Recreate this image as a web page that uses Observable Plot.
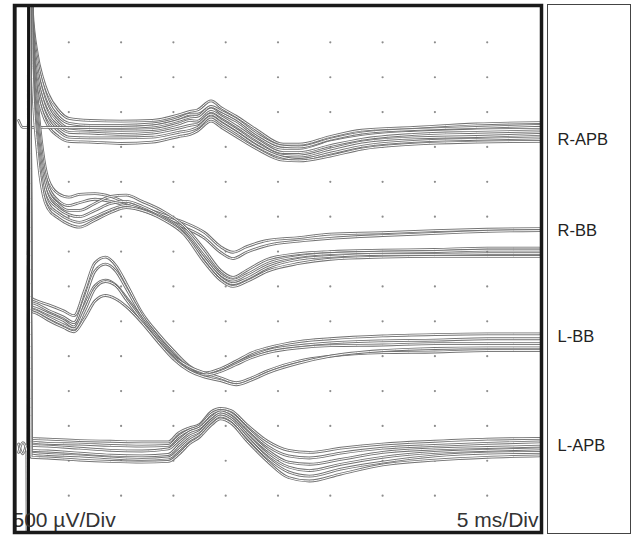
<!DOCTYPE html>
<html><head><meta charset="utf-8">
<script src="https://cdn.jsdelivr.net/npm/d3@7"></script>
<script src="https://cdn.jsdelivr.net/npm/@observablehq/plot@0.6"></script>
<style>
html,body{margin:0;padding:0;background:#fff;}
#wrap{position:relative;width:632px;height:538px;overflow:hidden;background:#fff;}
#labelbox{position:absolute;left:547px;top:4px;width:82px;height:528px;border:1px solid #444;}
#wrap svg{position:absolute;left:0;top:0;}
</style></head><body><div id="wrap"><div id="labelbox"></div></div>
<script>
// ---- channels ----
const channels = ["R-APB", "R-BB", "L-BB", "L-APB"];
const baselines = [5740, 4590, 3150, 1180];      // µV display offset of each channel
const labelLevels = [5600, 4300, 2780, 1220];    // µV level of each channel label
const stimTimes = [1.1, 1.2];                    // ms, stimulus artifact
const stimValues = [-9000, 9000];                // µV, off-scale artifact
const preTimes = [0.2, 0.6, 1.0];                // ms, pre-stimulus samples
const xTicks = [5, 10, 15, 20, 25, 30, 35, 40, 45];                                     // ms divisions
const yTicks = [500, 1000, 1500, 2000, 2500, 3000, 3500, 4000, 4500, 5000, 5500, 6000, 6500, 7000]; // µV divisions
const ampLabel = "500 µV/Div";
const timeLabel = "5 ms/Div";

// ---- R-APB ----
const rapbTimes = [1.5, 2.0, 2.5, 3.0, 4.0, 5.0, 7, 10, 13, 15.5, 16.6, 17.3, 18.6, 19.6, 21, 23, 25.5, 27, 30, 33, 38, 44, 50];
const rapbTraces = [
  [1750, 1080, 750, 530, 290, 170, 140, 130, 140, 220, 270, 290, 420, 320, 200, 0, -200, -200, -90, 0, 40, 90, 110],
  [1650, 980, 650, 430, 200, 100, 70, 70, 90, 170, 230, 230, 330, 240, 130, -90, -260, -260, -140, -60, 0, 30, 40],
  [1550, 860, 530, 330, 130, 30, 10, 0, 10, 90, 140, 130, 270, 190, 60, -140, -320, -320, -220, -130, -60, -30, -10],
  [1430, 750, 430, 240, 60, -30, -40, -60, -40, 30, 70, 90, 230, 140, 10, -190, -360, -370, -270, -170, -110, -90, -60],
  [1320, 650, 330, 160, -10, -100, -110, -110, -100, -30, 0, 40, 190, 100, -30, -230, -390, -420, -330, -230, -160, -130, -110],
  [1220, 540, 240, 70, -90, -160, -170, -190, -170, -90, -60, -10, 130, 40, -90, -270, -430, -440, -370, -270, -200, -170, -160],
  [40, 40, 40, 40, 40, 40, 40, 40, 60, 140, 190, 200, 340, 270, 160, -60, -230, -240, -130, -40, 10, 40, 70]
];
const rapbPre = [null, null, null, null, null, null, [140, 40, 40]];
const rapbStim = [true, true, true, true, true, true, false];

// ---- R-BB ----
const rbbTimes = [1.5, 2.0, 2.5, 3.0, 4.0, 5.0, 6.0, 7.5, 9, 10.5, 12, 14, 16, 18, 19.5, 20.7, 22, 24, 27, 30, 35, 40, 45, 50];
const rbbTraces = [
  [2720, 1580, 860, 460, 240, 190, 230, 240, 200, 110, 40, -60, -170, -320, -520, -600, -520, -430, -390, -340, -320, -290, -270, -260],
  [2610, 1410, 720, 360, 140, 70, 110, 160, 130, 70, 0, -110, -240, -400, -600, -690, -600, -500, -440, -400, -360, -330, -300, -290],
  [2470, 1260, 600, 290, 90, 0, 0, 100, 200, 220, 130, -10, -220, -570, -860, -960, -860, -700, -620, -590, -570, -560, -540, -540],
  [2320, 1120, 490, 200, 30, -60, -90, 0, 100, 130, 60, -90, -290, -660, -920, -1000, -920, -760, -660, -620, -600, -590, -570, -570],
  [2180, 980, 370, 110, -40, -130, -170, -90, 10, 70, 10, -110, -320, -700, -960, -1050, -980, -820, -700, -660, -630, -630, -620, -620],
  [2040, 830, 260, 30, -110, -200, -240, -140, -30, 40, 0, -130, -340, -750, -1000, -1090, -1020, -870, -760, -700, -670, -660, -660, -660]
];

// ---- L-BB ----
const lbbTimes = [1.4, 2.0, 3.0, 4.5, 5.5, 6.5, 7.5, 8.5, 9.5, 10.5, 12, 13.5, 15, 16.5, 18, 19.5, 21, 22.5, 24, 27, 30, 35, 40, 45, 50];
const lbbTraces = [
  [190, 140, 90, 0, -70, 290, 690, 770, 650, 390, -30, -320, -570, -790, -890, -830, -720, -600, -530, -440, -400, -360, -340, -330, -330],
  [130, 90, 10, -90, -170, 170, 570, 670, 570, 320, -70, -370, -630, -830, -930, -860, -750, -650, -570, -500, -460, -430, -420, -400, -400],
  [70, 30, -40, -140, -230, 70, 360, 440, 370, 190, -110, -400, -650, -800, -890, -960, -1030, -960, -860, -720, -650, -600, -590, -570, -570],
  [30, -10, -90, -200, -260, 0, 320, 420, 360, 160, -140, -430, -670, -850, -920, -870, -770, -670, -600, -530, -500, -490, -470, -470, -470],
  [0, -40, -130, -240, -300, -110, 140, 220, 170, 60, -170, -440, -690, -860, -950, -1000, -1060, -990, -890, -750, -650, -570, -540, -530, -530]
];

// ---- L-APB ----
const lapbTimes = [1.4, 3, 6, 9, 12, 14.5, 15.5, 16.5, 17.5, 18.6, 19.5, 20.5, 22, 24, 26, 28, 31, 35, 40, 45, 50];
const lapbTraces = [
  [140, 130, 110, 100, 90, 90, 220, 290, 340, 520, 570, 540, 340, 100, -30, -60, 0, 60, 100, 130, 140],
  [90, 70, 60, 40, 30, 40, 170, 260, 320, 490, 540, 500, 290, 30, -110, -140, -70, 0, 40, 70, 90],
  [40, 30, 0, -30, -40, -10, 110, 230, 290, 440, 520, 460, 240, -30, -200, -230, -160, -60, -10, 10, 30],
  [-30, -40, -70, -100, -110, -90, 40, 170, 240, 400, 490, 430, 200, -90, -270, -320, -230, -130, -60, -30, -10],
  [-70, -90, -110, -140, -160, -140, -30, 110, 200, 370, 460, 400, 160, -140, -340, -400, -300, -200, -110, -70, -60],
  [-130, -140, -170, -190, -200, -190, -90, 60, 160, 330, 420, 360, 110, -190, -420, -470, -370, -240, -170, -130, -110]
];
const lapbPre = [null, [60, -80, 40], null, null, [-60, 80, -40], null];

// ---- build ----
function buildTraces(ch, times, traces, pre, stim) {
  const base = baselines[ch];
  return traces.map((vals, k) => {
    const pts = [];
    if (pre && pre[k]) pre[k].forEach((v, i) => pts.push({t: preTimes[i], v: base + v}));
    if (!stim || stim[k]) stimTimes.forEach((t, i) => pts.push({t, v: base + stimValues[i]}));
    vals.forEach((v, i) => pts.push({t: times[i], v: base + v}));
    return pts;
  });
}
const allTraces = [
  ...buildTraces(0, rapbTimes, rapbTraces, rapbPre, rapbStim),
  ...buildTraces(1, rbbTimes, rbbTraces, null, null),
  ...buildTraces(2, lbbTimes, lbbTraces, null, null),
  ...buildTraces(3, lapbTimes, lapbTraces, lapbPre, null)
];
// stimulus segments (drawn dark, as in the recording)
const stimSegments = baselines.map(base => stimTimes.map((t, i) => ({t, v: base + stimValues[i]})));

const grid = d3.cross(xTicks, yTicks).map(([t, v]) => ({t, v}));
const labelRows = channels.map((name, i) => ({name, level: labelLevels[i]}));

const marks = [];
marks.push(Plot.dot(grid, {x: "t", y: "v", r: 1.1, fill: "#8c8c8c", stroke: "none"}));
for (const pts of allTraces) {
  marks.push(Plot.line(pts, {x: "t", y: "v", stroke: "#727272", strokeWidth: 2.8, curve: "monotone-x", clip: true}));
  marks.push(Plot.line(pts, {x: "t", y: "v", stroke: "#ffffff", strokeWidth: 1.0, curve: "monotone-x", clip: true}));
}
for (const seg of stimSegments) {
  marks.push(Plot.line(seg, {x: "t", y: "v", stroke: "#151515", strokeWidth: 2.2, clip: true}));
}
marks.push(Plot.text([ampLabel], {text: d => d, frameAnchor: "bottom-left", textAnchor: "start", lineAnchor: "bottom", dx: -2, dy: -6, fontSize: 21, fill: "#333"}));
marks.push(Plot.text([timeLabel], {text: d => d, frameAnchor: "bottom-right", textAnchor: "end", lineAnchor: "bottom", dx: -3, dy: -6, fontSize: 21, fill: "#333"}));
marks.push(Plot.text(labelRows, {x: () => 50, y: "level", text: "name", dx: 18, textAnchor: "start", lineAnchor: "middle", fontSize: 16.5, fill: "#222"}));
marks.push(Plot.ruleX([0], {stroke: "#111", strokeWidth: 2, dx: -1}));
marks.push(Plot.frame({stroke: "#1a1a1a", strokeWidth: 3.5}));

const chart = Plot.plot({
  width: 632,
  height: 538,
  marginLeft: 14,
  marginRight: 91,
  marginTop: 5,
  marginBottom: 6,
  x: {domain: [0, 50], range: [16, 539], axis: null},
  y: {domain: [0, 7500], range: [530, 7], axis: null},
  style: {background: "transparent", fontFamily: "'Liberation Sans', Arial, sans-serif"},
  marks
});
document.getElementById("wrap").appendChild(chart);
</script></body></html>
